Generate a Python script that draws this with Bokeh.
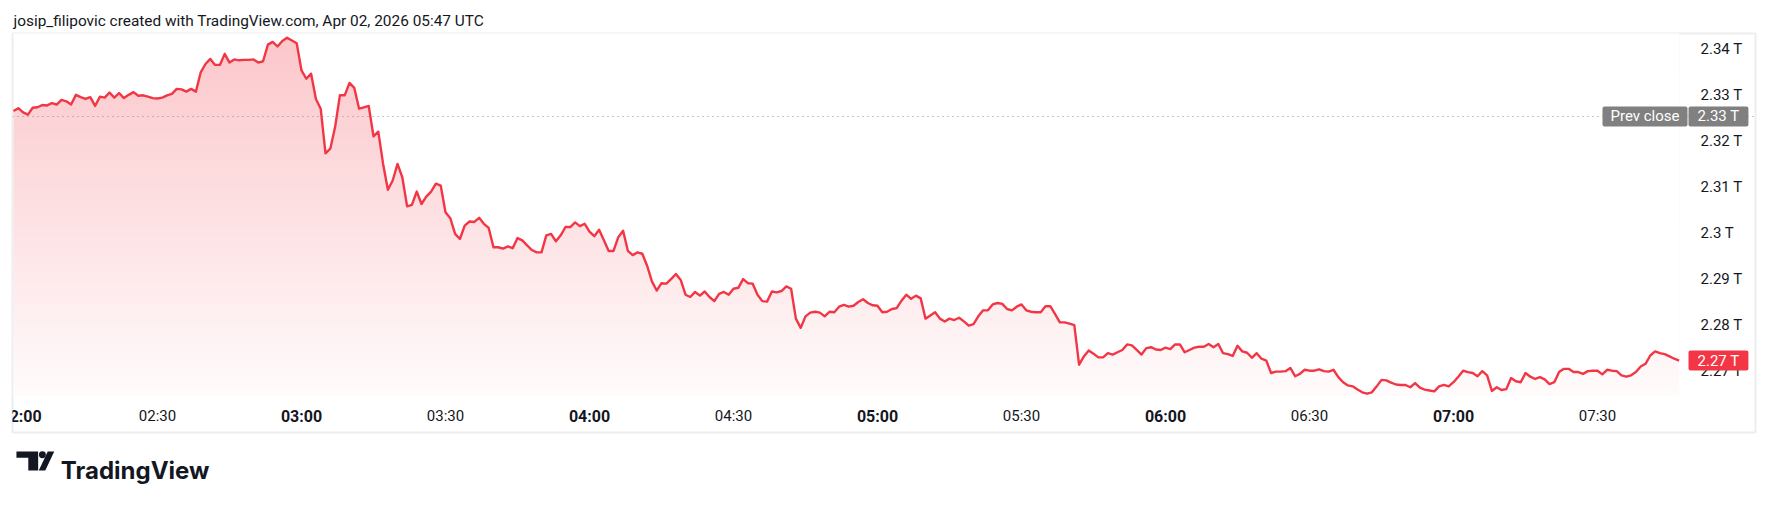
import numpy as np
from bokeh.plotting import figure
from bokeh.layouts import column
from bokeh.models import Range1d, LinearAxis, FixedTicker, Span, Label
from bokeh.core.properties import value
from bokeh.embed import file_html
from bokeh.resources import INLINE

# ---------------- data ----------------
title_text = "josip_filipovic created with TradingView.com, Apr 02, 2026 05:47 UTC"
brand_text = "TradingView"

# one close per minute, in trillions; minute 0 = 02:00
price_h02 = [2.3265, 2.3271, 2.3262, 2.3257, 2.3272, 2.3273, 2.3278, 2.3277, 2.3282, 2.3279,
             2.3289, 2.3286, 2.3279, 2.3300, 2.3295, 2.3291, 2.3295, 2.3276, 2.3296, 2.3294,
             2.3305, 2.3294, 2.3304, 2.3293, 2.3300, 2.3306, 2.3298, 2.3299, 2.3296, 2.3293,
             2.3292, 2.3294, 2.3299, 2.3302, 2.3313, 2.3312, 2.3307, 2.3313, 2.3307, 2.3349,
             2.3367, 2.3378, 2.3365, 2.3365, 2.3389, 2.3370, 2.3377, 2.3375, 2.3376, 2.3376,
             2.3377, 2.3370, 2.3373, 2.3409, 2.3415, 2.3405, 2.3417, 2.3424, 2.3418, 2.3412]
price_h03 = [2.3353, 2.3335, 2.3346, 2.3291, 2.3270, 2.3173, 2.3183, 2.3230, 2.3299, 2.3299,
             2.3326, 2.3315, 2.3270, 2.3273, 2.3276, 2.3210, 2.3220, 2.3150, 2.3094, 2.3114,
             2.3150, 2.3121, 2.3058, 2.3061, 2.3090, 2.3063, 2.3079, 2.3090, 2.3107, 2.3103,
             2.3045, 2.3032, 2.2998, 2.2987, 2.3016, 2.3025, 2.3024, 2.3033, 2.3020, 2.3011,
             2.2969, 2.2969, 2.2966, 2.2971, 2.2967, 2.2989, 2.2984, 2.2973, 2.2963, 2.2958,
             2.2958, 2.2995, 2.2998, 2.2982, 2.2995, 2.3013, 2.3013, 2.3023, 2.3015, 2.3020]
price_h04 = [2.3003, 2.2993, 2.3007, 2.2984, 2.2961, 2.2961, 2.2991, 2.3005, 2.2961, 2.2952,
             2.2958, 2.2955, 2.2929, 2.2895, 2.2875, 2.2891, 2.2890, 2.2900, 2.2911, 2.2898,
             2.2866, 2.2861, 2.2872, 2.2864, 2.2873, 2.2861, 2.2852, 2.2868, 2.2872, 2.2866,
             2.2879, 2.2881, 2.2900, 2.2891, 2.2890, 2.2866, 2.2852, 2.2851, 2.2873, 2.2871,
             2.2874, 2.2884, 2.2879, 2.2814, 2.2794, 2.2819, 2.2827, 2.2829, 2.2827, 2.2819,
             2.2829, 2.2828, 2.2840, 2.2844, 2.2840, 2.2842, 2.2850, 2.2856, 2.2848, 2.2843]
price_h05 = [2.2842, 2.2828, 2.2829, 2.2835, 2.2837, 2.2853, 2.2866, 2.2857, 2.2864, 2.2858,
             2.2814, 2.2821, 2.2828, 2.2814, 2.2808, 2.2814, 2.2811, 2.2816, 2.2808, 2.2799,
             2.2802, 2.2819, 2.2832, 2.2832, 2.2845, 2.2848, 2.2846, 2.2835, 2.2832, 2.2840,
             2.2845, 2.2832, 2.2829, 2.2828, 2.2828, 2.2841, 2.2841, 2.2824, 2.2806, 2.2806,
             2.2803, 2.2800, 2.2714, 2.2732, 2.2745, 2.2738, 2.2730, 2.2730, 2.2739, 2.2736,
             2.2741, 2.2746, 2.2758, 2.2756, 2.2746, 2.2736, 2.2750, 2.2752, 2.2747, 2.2746]
price_h06 = [2.2751, 2.2748, 2.2758, 2.2758, 2.2741, 2.2746, 2.2751, 2.2753, 2.2753, 2.2759,
             2.2752, 2.2759, 2.2739, 2.2737, 2.2733, 2.2755, 2.2743, 2.2740, 2.2729, 2.2739,
             2.2727, 2.2723, 2.2696, 2.2699, 2.2699, 2.2700, 2.2707, 2.2689, 2.2694, 2.2703,
             2.2701, 2.2701, 2.2704, 2.2700, 2.2699, 2.2703, 2.2687, 2.2676, 2.2669, 2.2667,
             2.2660, 2.2654, 2.2651, 2.2654, 2.2667, 2.2681, 2.2680, 2.2675, 2.2671, 2.2670,
             2.2670, 2.2665, 2.2674, 2.2664, 2.2660, 2.2658, 2.2656, 2.2667, 2.2670, 2.2667]
price_h07 = [2.2676, 2.2688, 2.2701, 2.2698, 2.2696, 2.2689, 2.2700, 2.2691, 2.2657, 2.2665,
             2.2659, 2.2661, 2.2685, 2.2678, 2.2676, 2.2696, 2.2688, 2.2683, 2.2687, 2.2682,
             2.2672, 2.2676, 2.2698, 2.2705, 2.2705, 2.2698, 2.2698, 2.2694, 2.2700, 2.2701,
             2.2701, 2.2693, 2.2703, 2.2701, 2.2700, 2.2691, 2.2688, 2.2691, 2.2698, 2.2710,
             2.2716, 2.2734, 2.2743, 2.2739, 2.2737, 2.2732, 2.2727, 2.2723]

prev_close = 2.3253

y_ticks = [2.27, 2.28, 2.29, 2.30, 2.31, 2.32, 2.33, 2.34]
y_tick_labels = ["2.27 T", "2.28 T", "2.29 T", "2.3 T",
                 "2.31 T", "2.32 T", "2.33 T", "2.34 T"]
hour_ticks = [0, 60, 120, 180, 240, 300]
hour_labels = ["02:00", "03:00", "04:00", "05:00", "06:00", "07:00"]
half_ticks = [30, 90, 150, 210, 270, 330]
half_labels = ["02:30", "03:30", "04:30", "05:30", "06:30", "07:30"]

prices = price_h02 + price_h03 + price_h04 + price_h05 + price_h06 + price_h07
minutes = list(range(len(prices)))          # one sample per minute after 02:00

# ---------------- layout (page pixels) ----------------
W, H, H_LOGO = 1766, 440, 66
FL, FR, FT, FB = 12, 1755, 33, 432         # frame = chart panel
X0_PX, PX_PER_MIN = 13.0, 4.8              # where minute 0 sits, px per minute
Y234_PX, PX_PER_T = 48.3, 4605.0           # where 2.34 T sits, px per trillion
PANE_BOTTOM_PX = 395.0                     # bottom of price pane
SCALE_LEFT_PX = 1688.0                     # left edge of the price scale


def px2x(px):
    return minutes[0] + (px - X0_PX) / PX_PER_MIN


def px2y(py):
    return y_ticks[-1] - (py - Y234_PX) / PX_PER_T


FONT = "Roboto"
INK = "#131722"
RED = "#F23645"

p = figure(width=W, height=H, output_backend="svg", toolbar_location=None,
           x_axis_location=None, y_axis_location=None,
           x_range=Range1d(px2x(FL), px2x(FR)), y_range=Range1d(px2y(FB), px2y(FT)),
           min_border_left=FL, min_border_right=W - FR,
           min_border_top=FT, min_border_bottom=H - FB)
p.grid.visible = False
p.background_fill_color = "white"
p.border_fill_color = "white"
p.outline_line_color = "#EDEEF0"
p.outline_line_width = 2

# title
p.title.text = title_text
p.title.align = "left"
p.title.text_font = FONT
p.title.text_font_size = "15.4px"
p.title.text_font_style = "normal"
p.title.text_color = INK
p.title.offset = 1
p.title.standoff = 8

# gradient area under the line
pane_bottom = px2y(PANE_BOTTOM_PX)
top_v = max(prices)
n = 256
a = np.linspace(0.02, 0.28, n)             # row 0 = bottom
img = np.empty((n, 1), dtype=np.uint32)
view = img.view(dtype=np.uint8).reshape((n, 1, 4))
view[:, 0, 0] = np.round(255 - a * (255 - 242)).astype(np.uint8)
view[:, 0, 1] = np.round(255 - a * (255 - 54)).astype(np.uint8)
view[:, 0, 2] = np.round(255 - a * (255 - 69)).astype(np.uint8)
view[:, 0, 3] = 255
p.image_rgba(image=[img], x=minutes[0], y=pane_bottom,
             dw=minutes[-1] - minutes[0], dh=top_v - pane_bottom)
# white above the line
p.varea(x=minutes, y1=prices, y2=px2y(FT) + 0.01, fill_color="white", fill_alpha=1.0)

# previous close dotted line
p.add_layout(Span(location=prev_close, dimension="width", line_color="#8E9099",
                  line_width=1, line_dash="1 4"))

# price line
p.line(minutes, prices, line_color=RED, line_width=2.4, line_join="round")

# price scale (right), inside the panel
yax = LinearAxis(fixed_location=px2x(SCALE_LEFT_PX),
                 ticker=FixedTicker(ticks=y_ticks),
                 major_label_overrides=dict(zip(y_ticks, y_tick_labels)))
yax.axis_line_color = None
yax.major_tick_line_color = None
yax.minor_tick_line_color = None
yax.major_tick_in = 0
yax.major_tick_out = 0
yax.major_label_standoff = 12
yax.major_label_text_font = FONT
yax.major_label_text_font_size = "15px"
yax.major_label_text_color = INK
p.add_layout(yax, "right")

# time scale (bottom), inside the panel
for ticks, labels, style, size in [(hour_ticks, hour_labels, "bold", "16px"),
                                   (half_ticks, half_labels, "normal", "15px")]:
    ax = LinearAxis(fixed_location=pane_bottom, ticker=FixedTicker(ticks=ticks),
                    major_label_overrides=dict(zip(ticks, labels)))
    ax.axis_line_color = None
    ax.major_tick_line_color = None
    ax.minor_tick_line_color = None
    ax.major_tick_in = 0
    ax.major_tick_out = 0
    ax.major_label_standoff = 11
    ax.major_label_text_font = FONT
    ax.major_label_text_font_size = size
    ax.major_label_text_font_style = style
    ax.major_label_text_color = INK
    p.add_layout(ax, "below")

# price-scale badges
p.add_layout(Label(x=px2x(SCALE_LEFT_PX - 1), y=prev_close, text="Prev close",
                   text_align="right", text_baseline="middle", text_font=FONT,
                   text_font_size="15px", text_color="white",
                   background_fill_color="#808080", padding=(8, 1), border_radius=2))
p.add_layout(Label(x=px2x(SCALE_LEFT_PX), y=prev_close, text=f"{prev_close:.2f} T",
                   text_align="left", text_baseline="middle", text_font=FONT,
                   text_font_size="15px", text_color="white",
                   background_fill_color="#808080", padding=(9, 1), border_radius=2))
p.add_layout(Label(x=px2x(SCALE_LEFT_PX), y=prices[-1], text=f"{prices[-1]:.2f} T",
                   text_align="left", text_baseline="middle", text_font=FONT,
                   text_font_size="15px", text_color="white",
                   background_fill_color=RED, padding=(9, 1), border_radius=2))

# ---------------- brand row below the panel ----------------
# the row's frame lands ~11 px right of and ~10 px below its nominal origin,
# so its pixel ranges are shifted to put the mark where the reference has it
DX, DY = 11, 10
q = figure(width=W, height=H_LOGO, output_backend="svg", toolbar_location=None,
           title=None, x_axis_location=None, y_axis_location=None,
           x_range=Range1d(DX, W + DX), y_range=Range1d(H_LOGO + DY, DY),
           min_border_left=0, min_border_right=0, min_border_top=0, min_border_bottom=0)
q.grid.visible = False
q.outline_line_color = None
q.background_fill_color = "white"
q.border_fill_color = "white"

# logo mark (page pixels, measured from the top of this row)
ICON_T = ([15, 37, 37, 27, 27, 15], [21, 21, 40, 40, 27.3, 27.3])
ICON_SLASH = ([46.7, 53.3, 44.2, 37.6], [21, 21, 40, 40])
ICON_DOT = (41.3, 24.2, 3.5)
q.patches(xs=[ICON_T[0], ICON_SLASH[0]], ys=[ICON_T[1], ICON_SLASH[1]],
          fill_color=INK, line_color=None)
q.circle(x=[ICON_DOT[0]], y=[ICON_DOT[1]], radius=ICON_DOT[2], fill_color=INK,
         line_color=None)
q.text(x=[60], y=[40], text=[brand_text], text_font=value("Inter"),
       text_font_size="24px", text_font_style="bold", text_color=INK,
       text_baseline="alphabetic", text_align="left")

open("out.html", "w").write(file_html(column(p, q, spacing=0), INLINE))
